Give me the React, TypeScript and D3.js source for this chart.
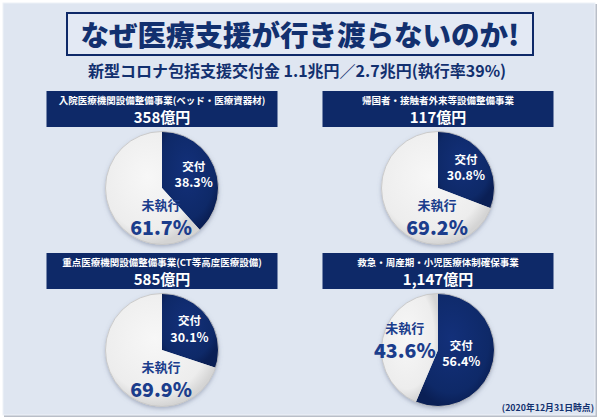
import React from "react";
import * as d3 from "d3";

const titleText = "なぜ医療支援が行き渡らないのか!";
const subtitleText = "新型コロナ包括支援交付金 1.1兆円／2.7兆円(執行率39%)";
const categories = [
  "入院医療機関設備整備事業(ベッド・医療資器材)",
  "帰国者・接触者外来等設備整備事業",
  "重点医療機関設備整備事業(CT等高度医療設備)",
  "救急・周産期・小児医療体制確保事業",
];
const amounts = ["358億円", "117億円", "585億円", "1,147億円"];
const delivered = [38.3, 30.8, 30.1, 56.4];
const unexecuted = [61.7, 69.2, 69.9, 43.6];
const sliceNames = ["交付", "未執行"];
const footnote = "(2020年12月31日時点)";

const W = 600;
const H = 420;
const NAVY = "#0e2968";
const TEXT_NAVY = "#12306f";
const LIGHT_LABEL = "#1b3d8c";
const FONT = "'Noto Sans CJK JP', 'Noto Sans', sans-serif";

const colX = [162, 438];
const rowY = [91, 253];
const headerW = 231;
const headerH = 36;
const R = 56.5;

function Panel({ i }: { i: number }) {
  const cx = colX[i % 2];
  const top = rowY[Math.floor(i / 2)];
  const cy = top + 97;
  const values = [delivered[i], unexecuted[i]];
  const pie = d3.pie<number>().sort(null).value((d) => d);
  const arcs = pie(values);
  const arc = d3.arc<d3.PieArcDatum<number>>().innerRadius(0).outerRadius(R);

  const labelPos = (a: d3.PieArcDatum<number>, k: number) => {
    const span = a.endAngle - a.startAngle;
    let ang = (a.startAngle + a.endAngle) / 2;
    let lr = span > Math.PI ? R * 0.42 : R * 0.6;
    if (k === 1 && a.startAngle < Math.PI * 0.85 && a.endAngle > Math.PI * 1.15) {
      ang = Math.PI * 1.01;
      lr = R * 0.56;
    }
    return [Math.sin(ang) * lr, -Math.cos(ang) * lr];
  };

  return (
    <g>
      <rect x={cx - headerW / 2} y={top} width={headerW} height={headerH} fill={NAVY} />
      <text x={cx} y={top + 13} textAnchor="middle" fill="#fff" fontSize={9.5} fontWeight={700} fontFamily={FONT}>
        {categories[i]}
      </text>
      <text x={cx} y={top + 32} textAnchor="middle" fill="#fff" fontSize={15} fontWeight={700} fontFamily={FONT}>
        {amounts[i]}
      </text>
      <g transform={`translate(${cx},${cy})`}>
        <circle r={R} fill="#ddd" filter="url(#pieShadow)" />
        {arcs.map((a, k) => (
          <path key={k} d={arc(a) as string} fill={k === 0 ? "url(#navyGrad)" : "url(#lightGrad)"} />
        ))}
        <circle r={R} fill="none" stroke="#c4c4c4" strokeWidth={0.8} />
        {arcs.map((a, k) => {
          const [lx, ly] = labelPos(a, k);
          const isNavy = k === 0;
          return (
            <g key={"l" + k} transform={`translate(${lx},${ly})`} fontFamily={FONT} fontWeight={700} textAnchor="middle">
              <text y={isNavy ? -5 : -10} fill={isNavy ? "#fff" : LIGHT_LABEL} fontSize={isNavy ? 11.5 : 13}>
                {sliceNames[k]}
              </text>
              <text y={isNavy ? 11.5 : 15} fill={isNavy ? "#fff" : LIGHT_LABEL} fontSize={isNavy ? 12.5 : 19.5} fontWeight={isNavy ? 700 : 900}>
                {d3.format(".1f")(values[k])}%
              </text>
            </g>
          );
        })}
      </g>
    </g>
  );
}

export default function App() {
  return (
    <svg width={W} height={H} style={{ position: "absolute", left: 0, top: 0 }} xmlns="http://www.w3.org/2000/svg">
      <defs>
        <radialGradient id="lightGrad" cx="45%" cy="40%" r="60%">
          <stop offset="0%" stopColor="#f7f7f7" />
          <stop offset="80%" stopColor="#ededed" />
          <stop offset="100%" stopColor="#d4d4d4" />
        </radialGradient>
        <radialGradient id="navyGrad" cx="45%" cy="40%" r="60%">
          <stop offset="0%" stopColor="#13307a" />
          <stop offset="80%" stopColor="#0e2968" />
          <stop offset="100%" stopColor="#0a1f55" />
        </radialGradient>
        <filter id="pieShadow" x="-20%" y="-20%" width="140%" height="150%">
          <feDropShadow dx="0" dy="2" stdDeviation="2" floodColor="#6a7590" floodOpacity="0.5" />
        </filter>
      </defs>
      <rect width={W} height={H} fill="#fff" />
      <rect x={4} y={4} width={593} height={413} fill="#b9bec8" />
      <rect x={3} y={3} width={592} height={412} fill="#dfe6f1" stroke="#eef2f8" strokeWidth={1} />
      <rect x={67} y={13} width={466} height={42} fill="#e3e9f4" stroke={NAVY} strokeWidth={2} />
      <text x={300} y={45.5} textAnchor="middle" fill={TEXT_NAVY} fontSize={28.5} fontWeight={900} fontFamily={FONT}>
        {titleText}
      </text>
      <text x={297} y={77} textAnchor="middle" fill={TEXT_NAVY} fontSize={16} fontWeight={700} fontFamily={FONT}>
        {subtitleText}
      </text>
      {categories.map((_, i) => (
        <Panel key={i} i={i} />
      ))}
      <text x={594} y={411} textAnchor="end" fill={TEXT_NAVY} fontSize={8.8} fontWeight={700} fontFamily={FONT}>
        {footnote}
      </text>
    </svg>
  );
}
